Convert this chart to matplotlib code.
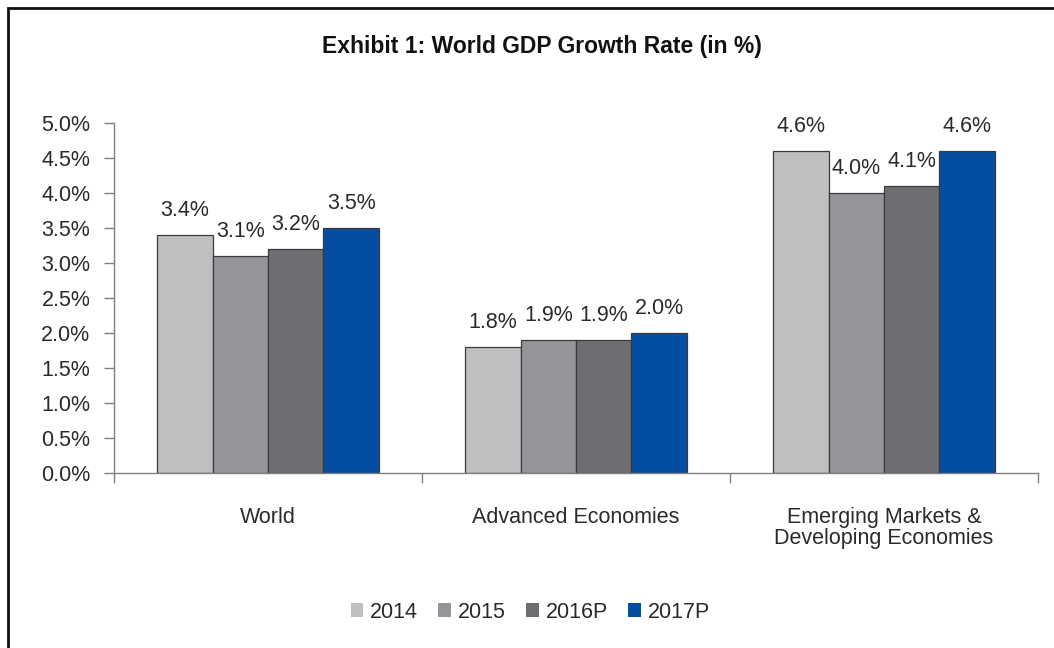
import numpy as np
import matplotlib.pyplot as plt
from matplotlib.patches import Rectangle
from matplotlib.ticker import FuncFormatter

plt.rcParams['font.family'] = ['Liberation Sans', 'DejaVu Sans']

# World GDP growth (%), IMF style grouping
regions = ['World', 'Advanced Economies', 'Emerging Markets &\nDeveloping Economies']
years = ['2014', '2015', '2016P', '2017P']
growth_2014 = [3.4, 1.8, 4.6]
growth_2015 = [3.1, 1.9, 4.0]
growth_2016 = [3.2, 1.9, 4.1]
growth_2017 = [3.5, 2.0, 4.6]
colors = ['#bebfc1', '#949598', '#6d6e71', '#034ea2']

series = [growth_2014, growth_2015, growth_2016, growth_2017]
txt = '#2a2a2a'
fs = 15.5

fig = plt.figure(figsize=(10.54, 6.48), dpi=100)
ax = fig.add_axes([0.1082, 0.2705, 0.8766, 0.5401])

x = np.arange(len(regions))
w = 0.18
for i, (vals, yr, c) in enumerate(zip(series, years, colors)):
    pos = x + (i - 1.5) * w
    bars = ax.bar(pos, vals, width=w, color=c, edgecolor='#3a3a3a',
                  linewidth=0.9, label=yr)
    for b, v in zip(bars, vals):
        ax.annotate(f'{v:.1f}%', (b.get_x() + b.get_width() / 2, v),
                    xytext=(0, 10), textcoords='offset points',
                    ha='center', va='bottom', fontsize=fs, color=txt)

ax.set_xlim(-0.5, 2.5)
ax.set_ylim(0, 5)
ax.set_yticks(np.arange(0, 5.01, 0.5))
ax.yaxis.set_major_formatter(FuncFormatter(lambda v, p: f'{v:.1f}%'))

ax.set_xticks(x)
ax.set_xticklabels(regions, fontsize=fs, color=txt, linespacing=1.0)
ax.set_xticks([-0.5, 0.5, 1.5, 2.5], minor=True)
ax.tick_params(axis='x', which='major', length=0, pad=25)
ax.tick_params(axis='x', which='minor', length=7, color='#808080', width=1)
ax.tick_params(axis='y', length=7, color='#808080', width=1, pad=10,
               labelsize=fs, labelcolor=txt)

for s in ['top', 'right']:
    ax.spines[s].set_visible(False)
for s in ['left', 'bottom']:
    ax.spines[s].set_color('#808080')
    ax.spines[s].set_linewidth(1)

fig.text(0.514, 0.928, 'Exhibit 1: World GDP Growth Rate (in %)',
         ha='center', va='center', fontsize=16.5, fontweight='bold', color='#111111')

ax.legend(loc='center', bbox_to_anchor=(0.503, 0.055), bbox_transform=fig.transFigure,
          ncol=4, frameon=False, fontsize=fs, handlelength=0.6, handleheight=0.6,
          handletextpad=0.3, columnspacing=0.95, labelcolor=txt)
for h in ax.get_legend().legend_handles:
    h.set_edgecolor('none')

# outer frame, right and bottom edges run off the canvas
fig.add_artist(Rectangle((8 / 1054, -0.2), 1.2, 1.2 - 8 / 648,
                         transform=fig.transFigure, fill=False,
                         edgecolor='#111111', linewidth=2))

fig.savefig('out.png', dpi=100)
